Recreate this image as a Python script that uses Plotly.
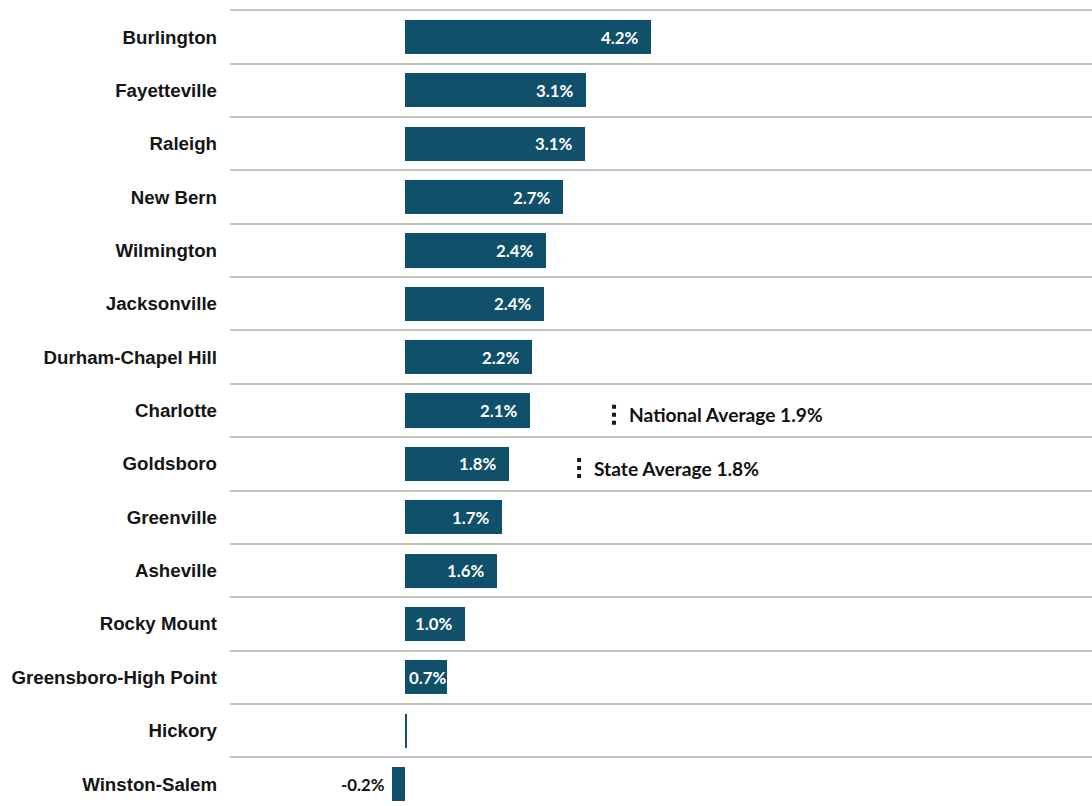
import plotly.graph_objects as go

# Metro areas, top to bottom, with their growth rates (%)
metros = [
    "Burlington", "Fayetteville", "Raleigh", "New Bern", "Wilmington",
    "Jacksonville", "Durham-Chapel Hill", "Charlotte", "Goldsboro",
    "Greenville", "Asheville", "Rocky Mount", "Greensboro-High Point",
    "Hickory", "Winston-Salem",
]
growth = [4.20, 3.09, 3.06, 2.70, 2.41, 2.37, 2.17, 2.13, 1.77,
          1.66, 1.56, 1.02, 0.72, 0.02, -0.22]

national_avg = 1.9
state_avg = 1.8

BAR_COLOR = "#10506A"
GRID_COLOR = "#c4c4c4"

n = len(metros)
# first metro sits at the top: position n-1 ... 0
ypos = [n - 1 - i for i in range(n)]

fig = go.Figure()
fig.add_trace(go.Bar(
    x=growth,
    y=ypos,
    orientation="h",
    width=0.64,
    marker=dict(color=BAR_COLOR, line=dict(width=0)),
    hoverinfo="skip",
))

# value labels: inside the bar end for positives, left of the bar for negatives
PX_PER_UNIT = 58.69
LABEL_W = 37
VAL_FONT = dict(family="Lato", size=16.8, weight="bold")
for v, yp in zip(growth, ypos):
    if abs(v) < 0.05:
        continue
    txt = f"{v:.1f}%"
    if v > 0:
        bar_px = v * PX_PER_UNIT
        if bar_px - 11 - LABEL_W < 2:
            fig.add_annotation(x=0, y=yp, text=txt, xanchor="left", xshift=2,
                               showarrow=False, font=dict(VAL_FONT, color="white"))
        else:
            fig.add_annotation(x=v, y=yp, text=txt, xanchor="right", xshift=-11,
                               showarrow=False, font=dict(VAL_FONT, color="white"))
    else:
        fig.add_annotation(x=v, y=yp, text=txt, xanchor="right", xshift=-5,
                           showarrow=False, font=dict(VAL_FONT, color="#111111"))

# average callouts with a short dotted marker
callouts = [
    (metros.index("Charlotte"), 0.4455, f"National Average {national_avg:.1f}%"),
    (metros.index("Goldsboro"), 0.405, f"State Average {state_avg:.1f}%"),
]
for idx, px, label in callouts:
    yc = n - 1 - idx - 0.08
    fig.add_shape(type="line", xref="paper", yref="y",
                  x0=px, x1=px, y0=yc + 0.19, y1=yc - 0.19,
                  line=dict(color="#1a1a1a", width=4, dash="4px,4px"))
    fig.add_annotation(xref="paper", yref="y", x=px + 0.0145, y=yc,
                       text=label, xanchor="left", yanchor="middle",
                       showarrow=False,
                       font=dict(family="Lato", size=19.2, color="#111111",
                                 weight="bold"))

fig.update_layout(
    width=1092, height=806,
    margin=dict(l=230, r=0, t=9, b=0),
    paper_bgcolor="white", plot_bgcolor="white",
    showlegend=False,
    bargap=0,
    xaxis=dict(range=[-2.982, 11.706], visible=False, fixedrange=True),
    yaxis=dict(
        range=[-0.412, n - 0.4753],
        tickvals=ypos, ticktext=metros,
        showgrid=False, zeroline=False, showline=False,
        ticks="", ticklabelstandoff=12,
        tickfont=dict(family="Liberation Sans", size=18.7, color="#151515",
                      weight="bold"),
        minor=dict(tickvals=[k - 0.5 for k in range(n + 1)], showgrid=True,
                   gridcolor=GRID_COLOR, gridwidth=1.6, ticks=""),
        fixedrange=True,
    ),
)

fig.write_html("out.html")
